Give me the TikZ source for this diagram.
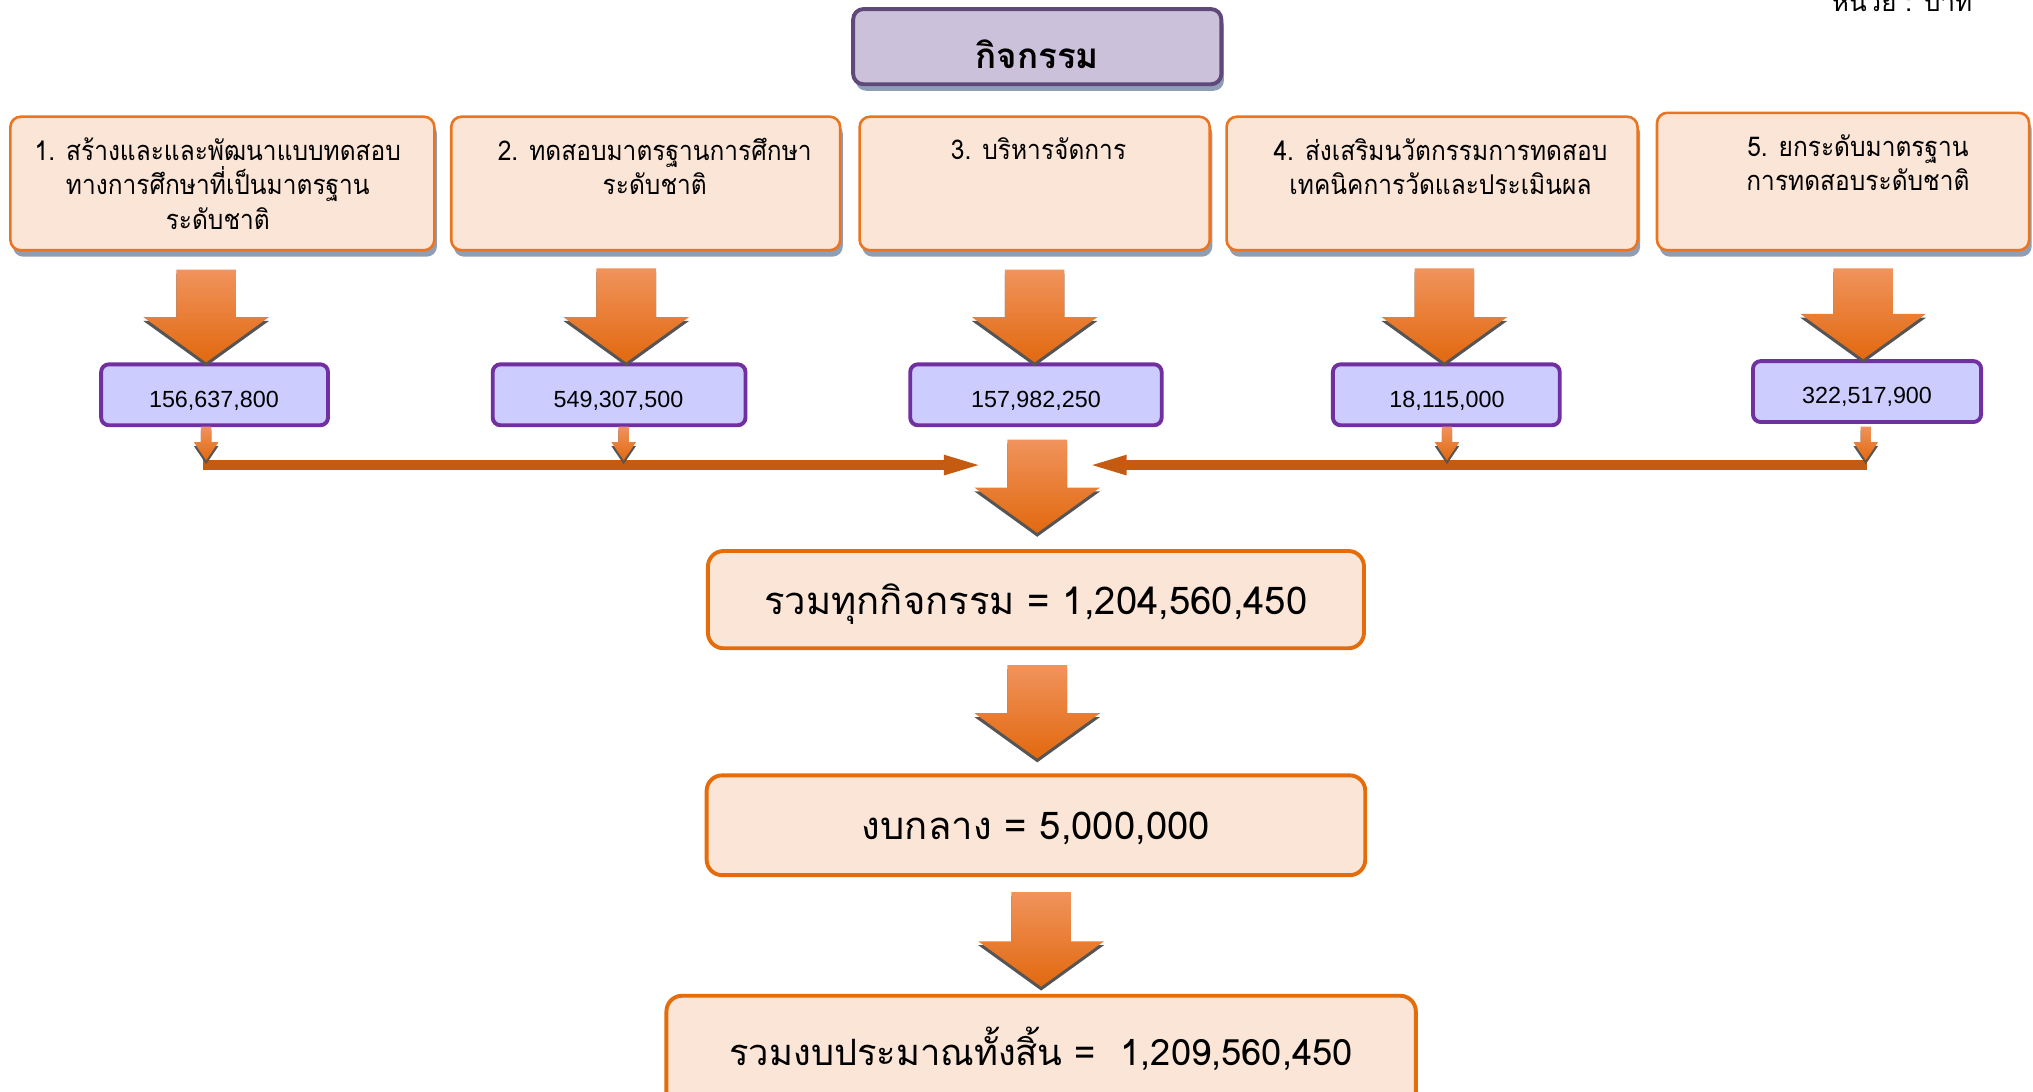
\documentclass[tikz,border=0pt]{standalone}
\usepackage{fontspec}
\setmainfont{Loma}[Script=Thai]
\newfontfamily\rowfont{Loma}[Script=Thai, FakeStretch=0.9]
\newfontfamily\numfont{Liberation Sans}
\usetikzlibrary{shadows,calc,arrows.meta}
\definecolor{peach}{HTML}{FBE5D6}
\definecolor{orangeb}{HTML}{E97522}
\definecolor{totb}{HTML}{E46C0A}
\definecolor{lav}{HTML}{CCC1DA}
\definecolor{purpb}{HTML}{5F497A}
\definecolor{valfill}{HTML}{CCCCFF}
\definecolor{valb}{HTML}{7030A0}
\definecolor{barc}{HTML}{C55A11}
\definecolor{arrtop}{HTML}{F0935C}
\definecolor{arrmid}{HTML}{F47D23}
\definecolor{arrbot}{HTML}{E2690F}
\definecolor{shadowc}{HTML}{8E9FB5}
\definecolor{arrshadow}{HTML}{555555}
\newcommand\blkarrow[5]{%
  \fill[arrshadow] let \p1=#4, \p2=#5 in
   (\x1-#1,\y1-3pt) -- (\x1+#1,\y1-3pt) -- (\x1+#1,\y2+#3-3pt) -- (\x1+#2,\y2+#3-3pt)
   -- (\x1,\y2-3pt) -- (\x1-#2,\y2+#3-3pt) -- (\x1-#1,\y2+#3-3pt) -- cycle;
  \shade[top color=arrtop, middle color=arrmid, bottom color=arrbot] let \p1=#4, \p2=#5 in
   (\x1-#1,\y1) -- (\x1+#1,\y1) -- (\x1+#1,\y2+#3) -- (\x1+#2,\y2+#3)
   -- (\x1,\y2) -- (\x1-#2,\y2+#3) -- (\x1-#1,\y2+#3) -- cycle;
}
\newcommand\bigarr[2]{\blkarrow{23pt}{48.5pt}{35pt}{#1}{#2}}
\newcommand\smallarr[2]{\blkarrow{4pt}{9.5pt}{14pt}{#1}{#2}}
\begin{document}
\begin{tikzpicture}[x=1pt,y=-1pt,
  rowbox/.style={draw=orangeb, line width=2pt, fill=peach, rounded corners=8pt, inner sep=0pt,
    drop shadow={shadow xshift=2pt, shadow yshift=-5pt, fill=shadowc, opacity=1}},
  titlebox/.style={draw=purpb, line width=3pt, fill=lav, rounded corners=8pt, inner sep=0pt,
    drop shadow={shadow xshift=2pt, shadow yshift=-5pt, fill=shadowc, opacity=1}},
  valbox/.style={draw=valb, line width=3pt, fill=valfill, rounded corners=6pt, inner sep=0pt},
  totbox/.style={draw=totb, line width=3pt, fill=peach, rounded corners=12pt, inner sep=0pt},
  rowtext/.style={font=\rowfont\fontsize{21}{26.5}\selectfont, align=center, inner sep=0pt},
  numtext/.style={font=\numfont\fontsize{18}{20}\selectfont, inner sep=0pt},
  tottext/.style={font=\fontsize{29.5}{32}\selectfont, inner sep=0pt},
  barline/.style={draw=barc, line width=7.5pt, -{Triangle[length=33pt,width=13pt]}}
]
\useasboundingbox (0,0) rectangle (1568,842);
\fill[white] (0,0) rectangle (1568,842);

% unit label
\node[font=\fontsize{20}{22}\selectfont, anchor=base, inner sep=0pt] (unit) at (1467,9) {หน่วย : บาท};

% title
\node[titlebox, minimum width=284pt, minimum height=58pt] (title) at (800,36) {};
\node[font=\bfseries\fontsize{27}{29}\selectfont, inner sep=0pt] (titletext) at (800,42) {กิจกรรม};

% row boxes
\node[rowbox, minimum width=327pt, minimum height=103pt] (b1) at (171.5,141.5) {};
\node[rowbox, minimum width=300pt, minimum height=103pt] (b2) at (498,141.5) {};
\node[rowbox, minimum width=270pt, minimum height=103pt] (b3) at (798,141.5) {};
\node[rowbox, minimum width=317pt, minimum height=103pt] (b4) at (1104.5,141.5) {};
\node[rowbox, minimum width=287pt, minimum height=106pt] (b5) at (1421.5,140) {};

\node[rowtext] (b1t) at (168,141.5) {1. สร้างและและพัฒนาแบบทดสอบ\\ทางการศึกษาที่เป็นมาตรฐาน\\ระดับชาติ};
\node[rowtext] (b2t) at (505,128.5) {2. ทดสอบมาตรฐานการศึกษา\\ระดับชาติ};
\node[rowtext] (b3t) at (801,115) {3. บริหารจัดการ};
\node[rowtext] (b4t) at (1111,128.5) {4. ส่งเสริมนวัตกรรมการทดสอบ\\เทคนิคการวัดและประเมินผล};
\node[rowtext] (b5t) at (1433,125.5) {5. ยกระดับมาตรฐาน\\การทดสอบระดับชาติ};

% value boxes
\node[valbox, minimum width=175pt, minimum height=47pt] (v1) at (165.5,304.5) {};
\node[valbox, minimum width=195pt, minimum height=47pt] (v2) at (477.5,304.5) {};
\node[valbox, minimum width=194pt, minimum height=47pt] (v3) at (799,304.5) {};
\node[valbox, minimum width=175pt, minimum height=47pt] (v4) at (1115.5,304.5) {};
\node[valbox, minimum width=176pt, minimum height=47pt] (v5) at (1440,302) {};

\node[numtext] (v1t) at (165,309) {156,637,800};
\node[numtext] (v2t) at (477,309) {549,307,500};
\node[numtext] (v3t) at (799,309) {157,982,250};
\node[numtext] (v4t) at (1116,309) {18,115,000};
\node[numtext] (v5t) at (1440,306) {322,517,900};

% big arrows from row boxes to value boxes
\coordinate (a1) at (159,208);
\coordinate (a2) at (483,207);
\coordinate (a3) at (798,208);
\coordinate (a4) at (1114,207);
\coordinate (a5) at (1437,207);
\bigarr{(a1)}{(a1 |- v1.north)}
\bigarr{(a2)}{(a2 |- v2.north)}
\bigarr{(a3)}{(a3 |- v3.north)}
\bigarr{(a4)}{(a4 |- v4.north)}
\bigarr{(a5)}{(a5 |- v5.north)}

% collecting bars
\coordinate (L1) at (156.5,358.7);
\coordinate (L2) at (761,358.7);
\coordinate (R1) at (1440,358.7);
\coordinate (R2) at (836,358.7);
\draw[barline] (L1) -- (L2);
\draw[barline] (R1) -- (R2);

% small arrows from value boxes onto bars
\coordinate (s1) at (159,329);
\coordinate (s2) at (481,329);
\coordinate (s4) at (1116,329);
\coordinate (s5) at (1439,329);
\smallarr{(s1)}{(s1 |- 0,355)}
\smallarr{(s2)}{(s2 |- 0,355)}
\smallarr{(s4)}{(s4 |- 0,355)}
\smallarr{(s5)}{(s5 |- 0,355)}

% totals
\node[totbox, minimum width=506pt, minimum height=75pt] (t1) at (799,462.5) {};
\node[tottext] (t1t) at (799,466) {รวมทุกกิจกรรม = 1,204,560,450};
\node[totbox, minimum width=508pt, minimum height=77pt] (t2) at (799,636.5) {};
\node[tottext] (t2t) at (799,639) {งบกลาง = 5,000,000};
\node[totbox, minimum width=578pt, minimum height=100pt] (t3) at (803,818) {};
\node[tottext, font=\fontsize{28}{32}\selectfont] (t3t) at (803,809) {รวมงบประมาณทั้งสิ้น =\ \ 1,209,560,450};

\coordinate (c1) at (800,339);
\coordinate (c2) at (800,513);
\coordinate (c3) at (803,688);
\bigarr{(c1)}{(800,411)}
\bigarr{(c2)}{(800,585)}
\bigarr{(c3)}{(803,761)}
\end{tikzpicture}
\end{document}
